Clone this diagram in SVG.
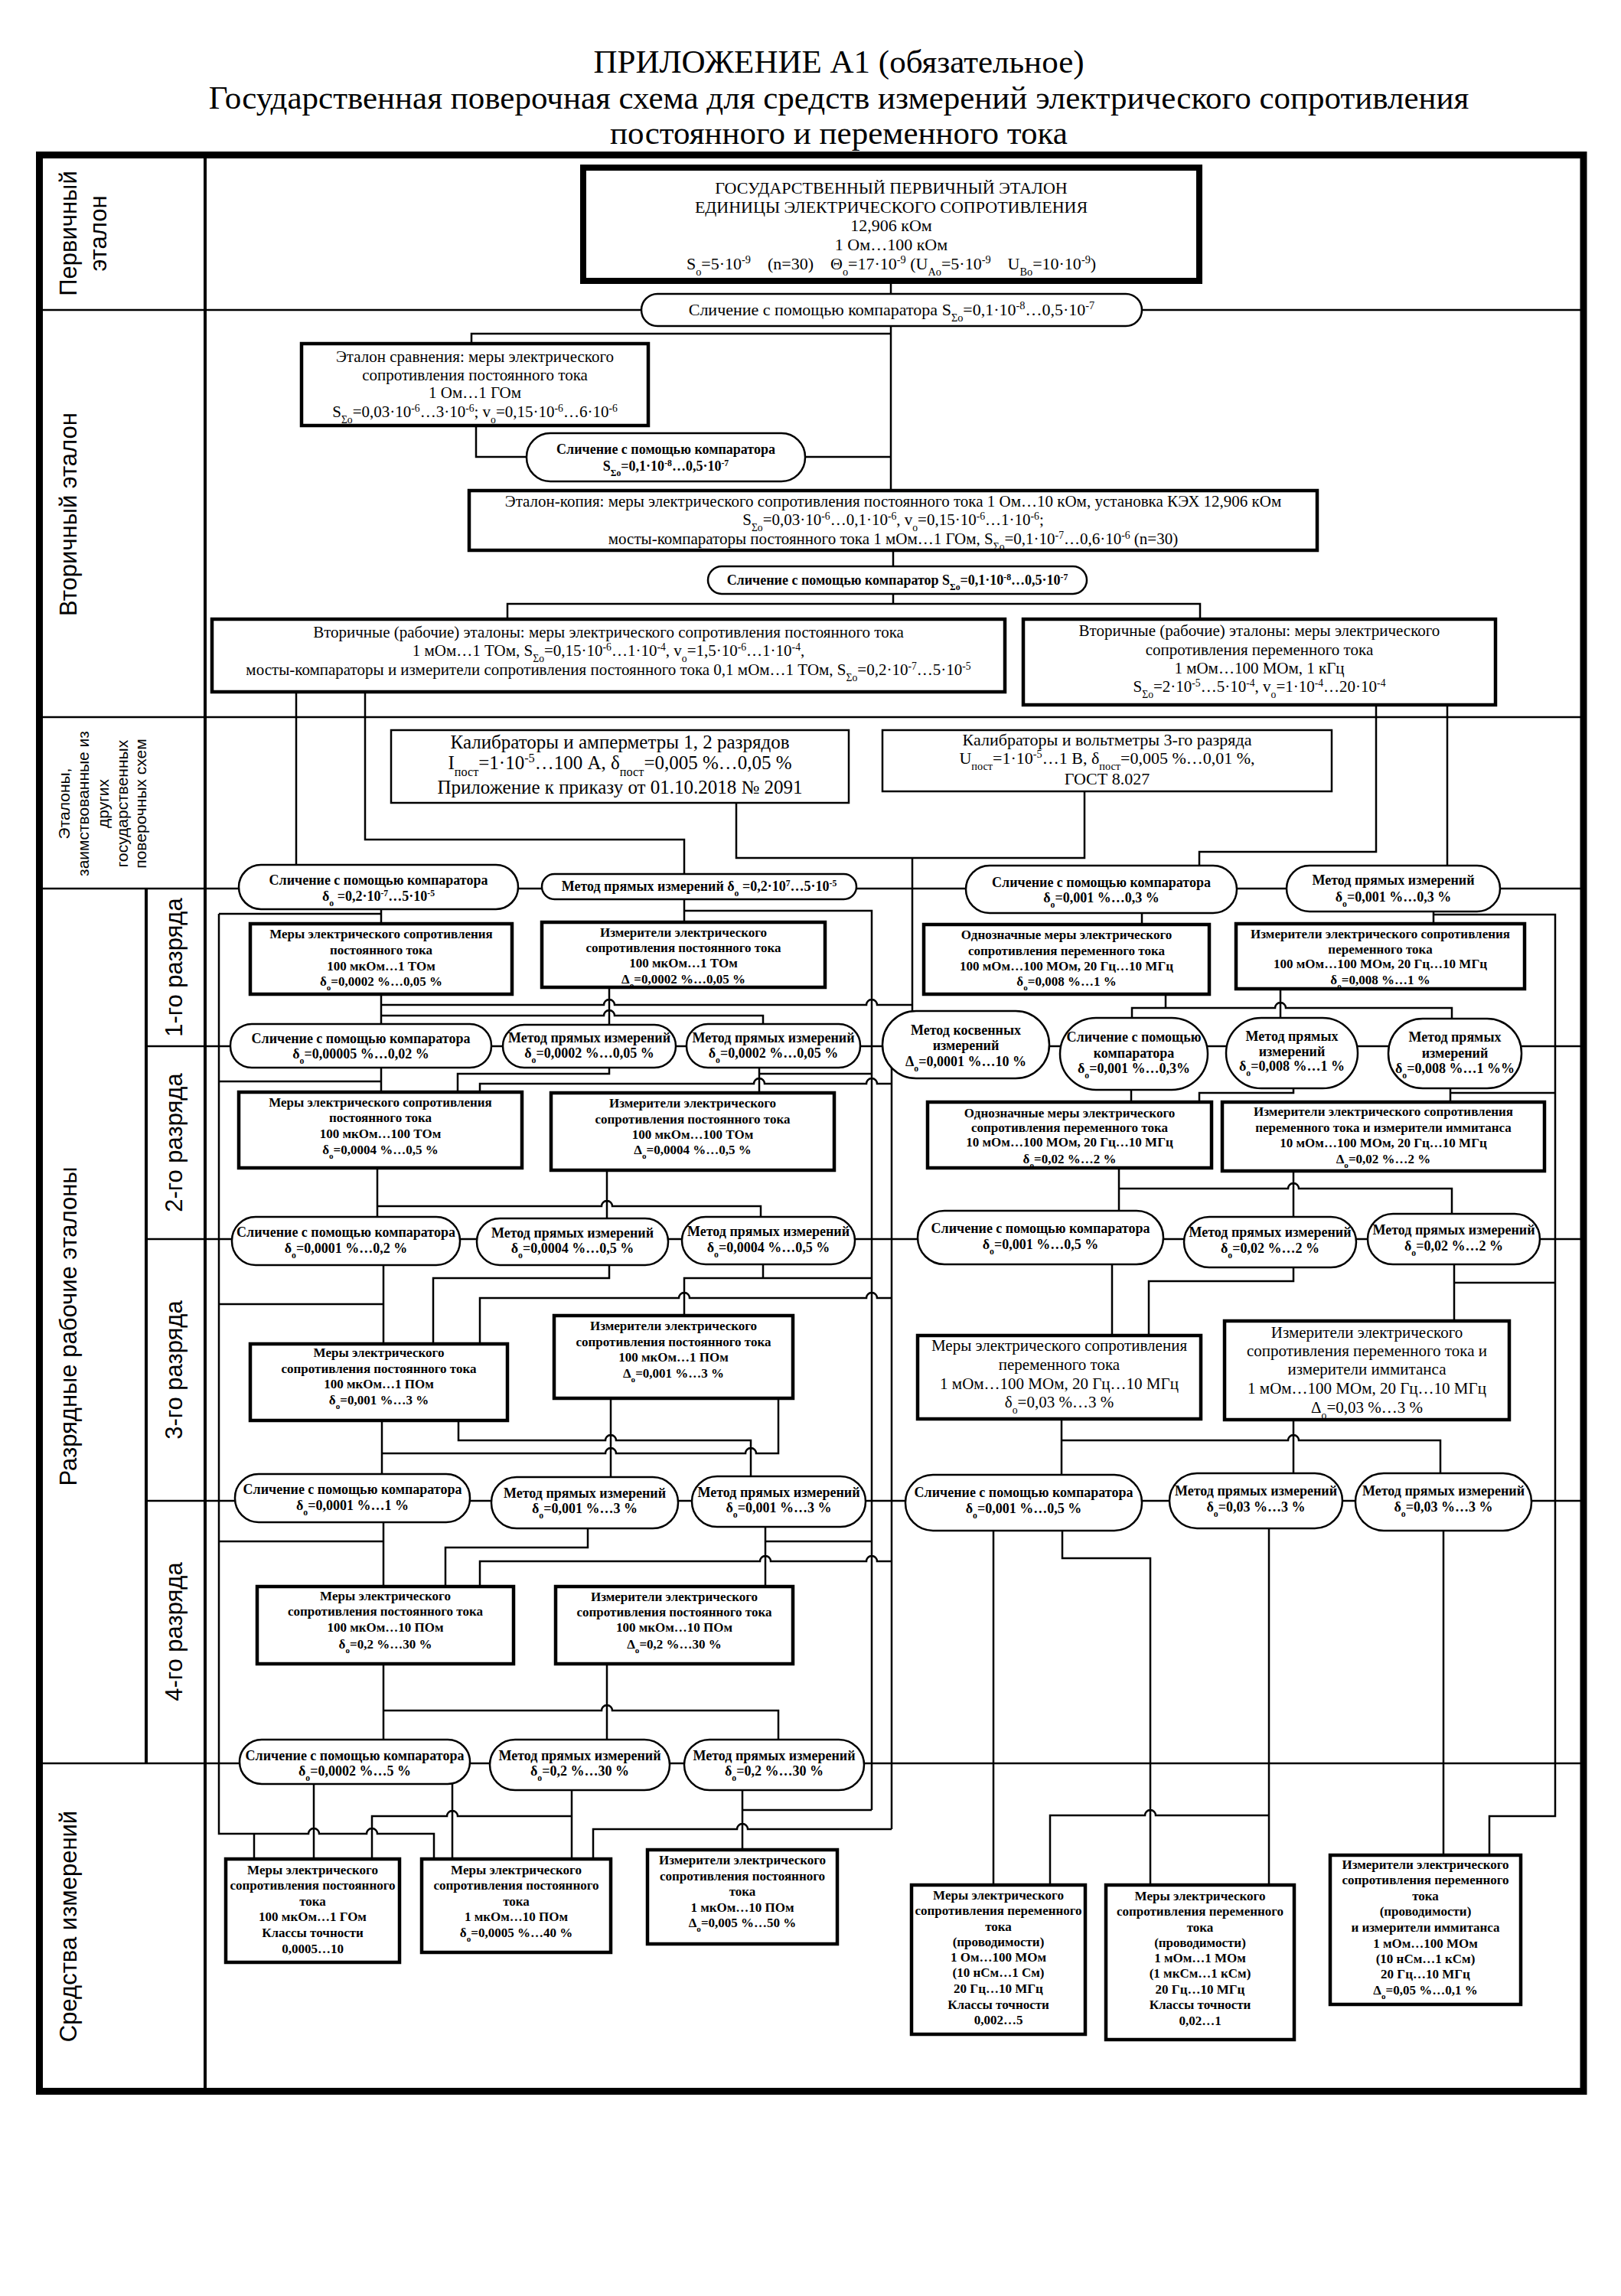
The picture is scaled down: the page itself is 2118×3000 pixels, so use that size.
<svg xmlns="http://www.w3.org/2000/svg" width="2118" height="3000" viewBox="0 0 2118 3000">
<style>
text{font-family:"Liberation Serif","Times New Roman",serif;text-anchor:middle;fill:#000}
.ttl{font-size:43px}
.lbl{font-family:"Liberation Sans",Arial,sans-serif;font-size:31px}
.lbs{font-family:"Liberation Sans",Arial,sans-serif;font-size:21px}
.r22{font-size:22px}
.r21{font-size:21px}
.r25{font-size:25px}
.b{font-size:17px;font-weight:bold}
.bp{font-size:18px;font-weight:bold}
.sp{font-size:65%;baseline-shift:super}
.sb{font-size:65%;baseline-shift:sub}
.frame{fill:none;stroke:#000;stroke-width:9}
.col{fill:none;stroke:#000;stroke-width:4}
.div{fill:none;stroke:#000;stroke-width:2.5}
.ln{fill:none;stroke:#000;stroke-width:2.5}
.prim{fill:#fff;stroke:#000;stroke-width:8}
.box{fill:#fff;stroke:#000;stroke-width:4.5}
.thin{fill:#fff;stroke:#000;stroke-width:2.5}
.pill{fill:#fff;stroke:#000;stroke-width:2.5}
</style>
<rect width="2118" height="3000" fill="#fff"/>
<g id="title">
<text class="ttl" x="1096" y="95">ПРИЛОЖЕНИЕ А1 (обязательное)</text>
<text class="ttl" x="1096" y="142">Государственная поверочная схема для средств измерений электрического сопротивления</text>
<text class="ttl" x="1096" y="188">постоянного и переменного тока</text>
</g>
<g id="grid">
<rect class="frame" x="51.5" y="202.5" width="2017.5" height="2530"/>
<path class="col" d="M268 202V2733 M191 1161V2304"/>
<path class="div" d="M52 405H2069 M52 937H2069 M52 1161H2069 M191 1367H2069 M191 1619H2069 M191 1961H2069 M52 2304H2069"/>
</g>
<g id="labels">
<text class="lbl" transform="translate(100,305) rotate(-90)">Первичный</text>
<text class="lbl" transform="translate(139,305) rotate(-90)">эталон</text>
<text class="lbl" transform="translate(100,672) rotate(-90)">Вторичный эталон</text>
<text class="lbs" transform="translate(91,1050) rotate(-90)">Эталоны,</text>
<text class="lbs" transform="translate(116,1050) rotate(-90)">заимствованные из</text>
<text class="lbs" transform="translate(142,1050) rotate(-90)">других</text>
<text class="lbs" transform="translate(167,1050) rotate(-90)">государственных</text>
<text class="lbs" transform="translate(191,1050) rotate(-90)">поверочных схем</text>
<text class="lbl" transform="translate(100,1733) rotate(-90)">Разрядные рабочие эталоны</text>
<text class="lbl" transform="translate(100,2517) rotate(-90)">Средства измерений</text>
<text class="lbl" transform="translate(238,1264) rotate(-90)">1-го разряда</text>
<text class="lbl" transform="translate(238,1493) rotate(-90)">2-го разряда</text>
<text class="lbl" transform="translate(238,1790) rotate(-90)">3-го разряда</text>
<text class="lbl" transform="translate(238,2132) rotate(-90)">4-го разряда</text>
</g>
<g id="connectors" class="ln">
<path d="M1164 360V395 M1164 415V650 M1164 436H616V455 M622 550V597H700 M1040 597H1164 M1167 712V750 M1167 770V789 M663 815V789H1568V815"/>
<path d="M387 900V1140 M477 900V1097H894V1150 M962 1045V1121H1417V1030 M1192 1121V1330 M1798 915V1113H1567V1140 M1891 915V1140"/>
<path d="M498 1180V1215 M286 1194H498 M286 1194V2396H403a7 7 0 0 1 14 0H479a7 7 0 0 1 14 0H567V2435 M332 2396V2435"/>
<path d="M894 1168V1212 M894 1190H1139V2365 M1492 1185V1215 M1873 1183V1215 M1873 1195H2032V2373H1946V2430"/>
<path d="M498 1295V1345 M498 1313H789a7 7 0 0 1 14 0H1132a7 7 0 0 1 14 0H1192 M498 1327H789a7 7 0 0 1 14 0H997V1345 M796 1285V1345"/>
<path d="M1523 1295V1317 M1479 1337V1317H1666a7 7 0 0 1 14 0H1897V1338 M1673 1288V1337"/>
<path d="M498 1388V1433 M286 1413H498 M796 1388V1403H598V1433 M992 1388V1433 M992 1403H1139 M627 1433V1416H985a7 7 0 0 1 14 0H1132a7 7 0 0 1 14 0H1165 M1165 1380V2390 M775 2435V2390H963a7 7 0 0 1 14 0H1165"/>
<path d="M1478 1415V1446 M1690 1414V1428H1567V1446 M1895 1414V1446 M1895 1428H2032"/>
<path d="M493 1520V1597 M493 1576H786a7 7 0 0 1 14 0H994V1597 M793 1523V1599 M1462 1520V1590 M1462 1553H1683a7 7 0 0 1 14 0H1897V1593 M1690 1524V1597"/>
<path d="M501 1645V1762 M286 1704H501 M796 1645V1670H566V1762 M627 1762V1696H887a7 7 0 0 1 14 0H1132a7 7 0 0 1 14 0H1165 M997 1645V1670 M894 1725V1670H1139"/>
<path d="M1453 1645V1751 M1690 1648V1674H1501V1751 M1900 1645V1732 M1900 1676H2032"/>
<path d="M499 1850V1933 M599 1850V1882H791a7 7 0 0 1 14 0H981V1936 M499 1899H791a7 7 0 0 1 14 0H974a7 7 0 0 1 14 0H1017V1821 M798 1821V1937"/>
<path d="M1387 1848V1934 M1387 1882H1683a7 7 0 0 1 14 0H1882V1932 M1690 1849V1932"/>
<path d="M501 1982V2079 M286 2014H501 M768 1988V2022H582V2079 M627 2079V2040H993a7 7 0 0 1 14 0H1132a7 7 0 0 1 14 0H1165 M1000 1988V2079 M1000 2014H1139"/>
<path d="M1298 1990V2469 M1388 1990V2036H1503V2469 M1658 1990V2469 M1372 2469V2372H1496a7 7 0 0 1 14 0H1658 M1886 1990V2430"/>
<path d="M501 2168V2280 M501 2235H786a7 7 0 0 1 14 0H1017V2280 M793 2168V2280"/>
<path d="M410 2320V2435 M591 2320V2435 M747 2330V2435 M486 2435V2373H584a7 7 0 0 1 14 0H747 M970 2330V2423 M970 2365H1139"/>
</g>
<g id="nodes">
<g id="primary"><rect class="prim" x="762" y="219" width="805" height="148"/>
<text class="r22" x="1164.5" y="253">ГОСУДАРСТВЕННЫЙ ПЕРВИЧНЫЙ ЭТАЛОН</text>
<text class="r22" x="1164.5" y="278">ЕДИНИЦЫ ЭЛЕКТРИЧЕСКОГО СОПРОТИВЛЕНИЯ</text>
<text class="r22" x="1164.5" y="302">12,906 кОм</text>
<text class="r22" x="1164.5" y="327">1 Ом…100 кОм</text>
<text class="r22" x="1164.5" y="352">S<tspan class="sb">o</tspan>=5·10<tspan class="sp">-9</tspan>&#160;&#160;&#160;&#160;(n=30)&#160;&#160;&#160;&#160;Θ<tspan class="sb">o</tspan>=17·10<tspan class="sp">-9</tspan> (U<tspan class="sb">Ao</tspan>=5·10<tspan class="sp">-9</tspan>&#160;&#160;&#160;&#160;U<tspan class="sb">Bo</tspan>=10·10<tspan class="sp">-9</tspan>)</text></g>
<g id="p0"><rect class="pill" x="838" y="384" width="654" height="42" rx="21"/>
<text class="r22" x="1165" y="412">Сличение с помощью компаратора S<tspan class="sb">Σo</tspan>=0,1·10<tspan class="sp">-8</tspan>…0,5·10<tspan class="sp">-7</tspan></text></g>
<g id="b1"><rect class="box" x="394" y="449" width="453" height="107"/>
<text class="r21" x="620.5" y="473">Эталон сравнения: меры электрического</text>
<text class="r21" x="620.5" y="497">сопротивления постоянного тока</text>
<text class="r21" x="620.5" y="520">1 Ом…1 ГОм</text>
<text class="r21" x="620.5" y="545">S<tspan class="sb">Σo</tspan>=0,03·10<tspan class="sp">-6</tspan>…3·10<tspan class="sp">-6</tspan>; v<tspan class="sb">o</tspan>=0,15·10<tspan class="sp">-6</tspan>…6·10<tspan class="sp">-6</tspan></text></g>
<g id="p1"><rect class="pill" x="688" y="566" width="364" height="63" rx="31"/>
<text class="bp" x="870" y="593">Сличение с помощью компаратора</text>
<text class="bp" x="870" y="615">S<tspan class="sb">Σo</tspan>=0,1·10<tspan class="sp">-8</tspan>…0,5·10<tspan class="sp">-7</tspan></text></g>
<g id="b2"><rect class="box" x="613" y="641" width="1108" height="78"/>
<text class="r21" x="1167" y="662">Эталон-копия: меры электрического сопротивления постоянного тока 1 Ом…10 кОм, установка КЭХ 12,906 кОм</text>
<text class="r21" x="1167" y="686">S<tspan class="sb">Σo</tspan>=0,03·10<tspan class="sp">-6</tspan>…0,1·10<tspan class="sp">-6</tspan>, v<tspan class="sb">o</tspan>=0,15·10<tspan class="sp">-6</tspan>…1·10<tspan class="sp">-6</tspan>;</text>
<text class="r21" x="1167" y="711">мосты-компараторы постоянного тока 1 мОм…1 ГОм, S<tspan class="sb">Σo</tspan>=0,1·10<tspan class="sp">-7</tspan>…0,6·10<tspan class="sp">-6</tspan> (n=30)</text></g>
<g id="p2"><rect class="pill" x="925" y="740" width="495" height="36" rx="18"/>
<text class="bp" x="1172.5" y="764">Сличение с помощью компаратор S<tspan class="sb">Σo</tspan>=0,1·10<tspan class="sp">-8</tspan>…0,5·10<tspan class="sp">-7</tspan></text></g>
<g id="b3"><rect class="box" x="277" y="809" width="1036" height="95"/>
<text class="r21" x="795" y="833">Вторичные (рабочие) эталоны: меры электрического сопротивления постоянного тока</text>
<text class="r21" x="795" y="857">1 мОм…1 ТОм, S<tspan class="sb">Σo</tspan>=0,15·10<tspan class="sp">-6</tspan>…1·10<tspan class="sp">-4</tspan>, v<tspan class="sb">o</tspan>=1,5·10<tspan class="sp">-6</tspan>…1·10<tspan class="sp">-4</tspan>,</text>
<text class="r21" x="795" y="882">мосты-компараторы и измерители сопротивления постоянного тока 0,1 мОм…1 ТОм, S<tspan class="sb">Σo</tspan>=0,2·10<tspan class="sp">-7</tspan>…5·10<tspan class="sp">-5</tspan></text></g>
<g id="b4"><rect class="box" x="1337" y="809" width="617" height="112"/>
<text class="r21" x="1645.5" y="831">Вторичные (рабочие) эталоны: меры электрического</text>
<text class="r21" x="1645.5" y="856">сопротивления переменного тока</text>
<text class="r21" x="1645.5" y="880">1 мОм…100 МОм, 1 кГц</text>
<text class="r21" x="1645.5" y="904">S<tspan class="sb">Σo</tspan>=2·10<tspan class="sp">-5</tspan>…5·10<tspan class="sp">-4</tspan>, v<tspan class="sb">o</tspan>=1·10<tspan class="sp">-4</tspan>…20·10<tspan class="sp">-4</tspan></text></g>
<g id="b5"><rect class="thin" x="511" y="954" width="598" height="95"/>
<text class="r25" x="810" y="978">Калибраторы и амперметры 1, 2 разрядов</text>
<text class="r25" x="810" y="1005">I<tspan class="sb">пост</tspan>=1·10<tspan class="sp">-5</tspan>…100 А, δ<tspan class="sb">пост</tspan>=0,005 %…0,05 %</text>
<text class="r25" x="810" y="1037">Приложение к приказу от 01.10.2018 № 2091</text></g>
<g id="b6"><rect class="thin" x="1153" y="954" width="587" height="80"/>
<text class="r22" x="1446.5" y="974">Калибраторы и вольтметры 3-го разряда</text>
<text class="r22" x="1446.5" y="998">U<tspan class="sb">пост</tspan>=1·10<tspan class="sp">-5</tspan>…1 В, δ<tspan class="sb">пост</tspan>=0,005 %…0,01 %,</text>
<text class="r22" x="1446.5" y="1025">ГОСТ 8.027</text></g>
<g id="p3"><rect class="pill" x="312" y="1130" width="365" height="58" rx="29"/>
<text class="bp" x="494.5" y="1156">Сличение с помощью компаратора</text>
<text class="bp" x="494.5" y="1177">δ<tspan class="sb">o</tspan> =0,2·10<tspan class="sp">-7</tspan>…5·10<tspan class="sp">-5</tspan></text></g>
<g id="p4"><rect class="pill" x="708" y="1142" width="411" height="33" rx="16.5"/>
<text class="bp" x="913.5" y="1164">Метод прямых измерений δ<tspan class="sb">o</tspan> =0,2·10<tspan class="sp">7</tspan>…5·10<tspan class="sp">-5</tspan></text></g>
<g id="p5"><rect class="pill" x="1262" y="1131" width="354" height="62" rx="31"/>
<text class="bp" x="1439" y="1159">Сличение с помощью компаратора</text>
<text class="bp" x="1439" y="1179">δ<tspan class="sb">o</tspan>=0,001 %…0,3 %</text></g>
<g id="p6"><rect class="pill" x="1681" y="1131" width="279" height="60" rx="30"/>
<text class="bp" x="1820.5" y="1156">Метод прямых измерений</text>
<text class="bp" x="1820.5" y="1178">δ<tspan class="sb">o</tspan>=0,001 %…0,3 %</text></g>
<g id="b7"><rect class="box" x="327" y="1207" width="342" height="92"/>
<text class="b" x="498" y="1226">Меры электрического сопротивления</text>
<text class="b" x="498" y="1247">постоянного тока</text>
<text class="b" x="498" y="1268">100 мкОм…1 ТОм</text>
<text class="b" x="498" y="1288">δ<tspan class="sb">o</tspan>=0,0002 %…0,05 %</text></g>
<g id="b8"><rect class="box" x="708" y="1205" width="370" height="85"/>
<text class="b" x="893" y="1224">Измерители электрического</text>
<text class="b" x="893" y="1244">сопротивления постоянного тока</text>
<text class="b" x="893" y="1264">100 мкОм…1 ТОм</text>
<text class="b" x="893" y="1285">Δ<tspan class="sb">o</tspan>=0,0002 %…0,05 %</text></g>
<g id="b9"><rect class="box" x="1207" y="1208" width="373" height="91"/>
<text class="b" x="1393.5" y="1227">Однозначные меры электрического</text>
<text class="b" x="1393.5" y="1248">сопротивления переменного тока</text>
<text class="b" x="1393.5" y="1268">100 мОм…100 МОм, 20 Гц…10 МГц</text>
<text class="b" x="1393.5" y="1288">δ<tspan class="sb">o</tspan>=0,008 %…1 %</text></g>
<g id="b10"><rect class="box" x="1615" y="1207" width="377" height="85"/>
<text class="b" x="1803.5" y="1226">Измерители электрического сопротивления</text>
<text class="b" x="1803.5" y="1246">переменного тока</text>
<text class="b" x="1803.5" y="1265">100 мОм…100 МОм, 20 Гц…10 МГц</text>
<text class="b" x="1803.5" y="1286">δ<tspan class="sb">o</tspan>=0,008 %…1 %</text></g>
<g id="p7"><rect class="pill" x="301" y="1338" width="341" height="57" rx="28"/>
<text class="bp" x="471.5" y="1363">Сличение с помощью компаратора</text>
<text class="bp" x="471.5" y="1383">δ<tspan class="sb">o</tspan>=0,00005 %…0,02 %</text></g>
<g id="p8"><rect class="pill" x="657" y="1339" width="226" height="56" rx="28"/>
<text class="bp" x="770" y="1362">Метод прямых измерений</text>
<text class="bp" x="770" y="1382">δ<tspan class="sb">o</tspan>=0,0002 %…0,05 %</text></g>
<g id="p9"><rect class="pill" x="897" y="1338" width="227" height="57" rx="28"/>
<text class="bp" x="1010.5" y="1362">Метод прямых измерений</text>
<text class="bp" x="1010.5" y="1382">δ<tspan class="sb">o</tspan>=0,0002 %…0,05 %</text></g>
<g id="p10"><rect class="pill" x="1153" y="1321" width="218" height="88" rx="44"/>
<text class="bp" x="1262" y="1352">Метод косвенных</text>
<text class="bp" x="1262" y="1372">измерений</text>
<text class="bp" x="1262" y="1393">Δ<tspan class="sb">o</tspan>=0,0001 %…10 %</text></g>
<g id="p11"><rect class="pill" x="1385" y="1330" width="193" height="94" rx="47"/>
<text class="bp" x="1481.5" y="1361">Сличение с помощью</text>
<text class="bp" x="1481.5" y="1382">компаратора</text>
<text class="bp" x="1481.5" y="1402">δ<tspan class="sb">o</tspan>=0,001 %…0,3%</text></g>
<g id="p12"><rect class="pill" x="1602" y="1330" width="172" height="92" rx="46"/>
<text class="bp" x="1688" y="1360">Метод прямых</text>
<text class="bp" x="1688" y="1380">измерений</text>
<text class="bp" x="1688" y="1399">δ<tspan class="sb">o</tspan>=0,008 %…1 %</text></g>
<g id="p13"><rect class="pill" x="1814" y="1331" width="174" height="91" rx="45"/>
<text class="bp" x="1901" y="1361">Метод прямых</text>
<text class="bp" x="1901" y="1382">измерений</text>
<text class="bp" x="1901" y="1402">δ<tspan class="sb">o</tspan>=0,008 %…1 %%</text></g>
<g id="b11"><rect class="box" x="312" y="1427" width="370" height="99"/>
<text class="b" x="497" y="1446">Меры электрического сопротивления</text>
<text class="b" x="497" y="1466">постоянного тока</text>
<text class="b" x="497" y="1487">100 мкОм…100 ТОм</text>
<text class="b" x="497" y="1508">δ<tspan class="sb">o</tspan>=0,0004 %…0,5 %</text></g>
<g id="b12"><rect class="box" x="720" y="1428" width="370" height="101"/>
<text class="b" x="905" y="1447">Измерители электрического</text>
<text class="b" x="905" y="1468">сопротивления постоянного тока</text>
<text class="b" x="905" y="1488">100 мкОм…100 ТОм</text>
<text class="b" x="905" y="1508">Δ<tspan class="sb">o</tspan>=0,0004 %…0,5 %</text></g>
<g id="b13"><rect class="box" x="1212" y="1440" width="371" height="86"/>
<text class="b" x="1397.5" y="1460">Однозначные меры электрического</text>
<text class="b" x="1397.5" y="1479">сопротивления переменного тока</text>
<text class="b" x="1397.5" y="1498">10 мОм…100 МОм, 20 Гц…10 МГц</text>
<text class="b" x="1397.5" y="1520">δ<tspan class="sb">o</tspan>=0,02 %…2 %</text></g>
<g id="b14"><rect class="box" x="1597" y="1440" width="421" height="90"/>
<text class="b" x="1807.5" y="1458">Измерители электрического сопротивления</text>
<text class="b" x="1807.5" y="1479">переменного тока и измерители иммитанса</text>
<text class="b" x="1807.5" y="1499">10 мОм…100 МОм, 20 Гц…10 МГц</text>
<text class="b" x="1807.5" y="1520">Δ<tspan class="sb">o</tspan>=0,02 %…2 %</text></g>
<g id="p14"><rect class="pill" x="303" y="1590" width="298" height="63" rx="31"/>
<text class="bp" x="452" y="1616">Сличение с помощью компаратора</text>
<text class="bp" x="452" y="1637">δ<tspan class="sb">o</tspan>=0,0001 %…0,2 %</text></g>
<g id="p15"><rect class="pill" x="623" y="1592" width="250" height="61" rx="30"/>
<text class="bp" x="748" y="1617">Метод прямых измерений</text>
<text class="bp" x="748" y="1637">δ<tspan class="sb">o</tspan>=0,0004 %…0,5 %</text></g>
<g id="p16"><rect class="pill" x="891" y="1590" width="226" height="62" rx="31"/>
<text class="bp" x="1004" y="1615">Метод прямых измерений</text>
<text class="bp" x="1004" y="1636">δ<tspan class="sb">o</tspan>=0,0004 %…0,5 %</text></g>
<g id="p17"><rect class="pill" x="1199" y="1582" width="321" height="70" rx="35"/>
<text class="bp" x="1359.5" y="1611">Сличение с помощью компаратора</text>
<text class="bp" x="1359.5" y="1632">δ<tspan class="sb">o</tspan>=0,001 %…0,5 %</text></g>
<g id="p18"><rect class="pill" x="1547" y="1590" width="225" height="66" rx="33"/>
<text class="bp" x="1659.5" y="1616">Метод прямых измерений</text>
<text class="bp" x="1659.5" y="1637">δ<tspan class="sb">o</tspan>=0,02 %…2 %</text></g>
<g id="p19"><rect class="pill" x="1787" y="1586" width="225" height="66" rx="33"/>
<text class="bp" x="1899.5" y="1613">Метод прямых измерений</text>
<text class="bp" x="1899.5" y="1634">δ<tspan class="sb">o</tspan>=0,02 %…2 %</text></g>
<g id="b15"><rect class="box" x="327" y="1756" width="336" height="100"/>
<text class="b" x="495" y="1773">Меры электрического</text>
<text class="b" x="495" y="1794">сопротивления постоянного тока</text>
<text class="b" x="495" y="1814">100 мкОм…1 ПОм</text>
<text class="b" x="495" y="1835">δ<tspan class="sb">o</tspan>=0,001 %…3 %</text></g>
<g id="b16"><rect class="box" x="724" y="1719" width="312" height="108"/>
<text class="b" x="880" y="1738">Измерители электрического</text>
<text class="b" x="880" y="1759">сопротивления постоянного тока</text>
<text class="b" x="880" y="1779">100 мкОм…1 ПОм</text>
<text class="b" x="880" y="1800">Δ<tspan class="sb">o</tspan>=0,001 %…3 %</text></g>
<g id="b17"><rect class="box" x="1199" y="1745" width="370" height="109"/>
<text class="r21" x="1384" y="1765">Меры электрического сопротивления</text>
<text class="r21" x="1384" y="1790">переменного тока</text>
<text class="r21" x="1384" y="1815">1 мОм…100 МОм, 20 Гц…10 МГц</text>
<text class="r21" x="1384" y="1839">δ<tspan class="sb">o</tspan>=0,03 %…3 %</text></g>
<g id="b18"><rect class="box" x="1600" y="1726" width="372" height="129"/>
<text class="r21" x="1786" y="1748">Измерители электрического</text>
<text class="r21" x="1786" y="1772">сопротивления переменного тока и</text>
<text class="r21" x="1786" y="1796">измерители иммитанса</text>
<text class="r21" x="1786" y="1821">1 мОм…100 МОм, 20 Гц…10 МГц</text>
<text class="r21" x="1786" y="1846">Δ<tspan class="sb">o</tspan>=0,03 %…3 %</text></g>
<g id="p20"><rect class="pill" x="307" y="1926" width="307" height="63" rx="31"/>
<text class="bp" x="460.5" y="1952">Сличение с помощью компаратора</text>
<text class="bp" x="460.5" y="1973">δ<tspan class="sb">o</tspan>=0,0001 %…1 %</text></g>
<g id="p21"><rect class="pill" x="642" y="1930" width="244" height="67" rx="33"/>
<text class="bp" x="764" y="1957">Метод прямых измерений</text>
<text class="bp" x="764" y="1977">δ<tspan class="sb">o</tspan>=0,001 %…3 %</text></g>
<g id="p22"><rect class="pill" x="904" y="1929" width="227" height="66" rx="33"/>
<text class="bp" x="1017.5" y="1956">Метод прямых измерений</text>
<text class="bp" x="1017.5" y="1976">δ<tspan class="sb">o</tspan>=0,001 %…3 %</text></g>
<g id="p23"><rect class="pill" x="1183" y="1927" width="309" height="73" rx="36"/>
<text class="bp" x="1337.5" y="1956">Сличение с помощью компаратора</text>
<text class="bp" x="1337.5" y="1977">δ<tspan class="sb">o</tspan>=0,001 %…0,5 %</text></g>
<g id="p24"><rect class="pill" x="1528" y="1925" width="226" height="72" rx="36"/>
<text class="bp" x="1641" y="1954">Метод прямых измерений</text>
<text class="bp" x="1641" y="1975">δ<tspan class="sb">o</tspan>=0,03 %…3 %</text></g>
<g id="p25"><rect class="pill" x="1771" y="1925" width="230" height="75" rx="37"/>
<text class="bp" x="1886" y="1954">Метод прямых измерений</text>
<text class="bp" x="1886" y="1975">δ<tspan class="sb">o</tspan>=0,03 %…3 %</text></g>
<g id="b19"><rect class="box" x="336" y="2073" width="335" height="101"/>
<text class="b" x="503.5" y="2091">Меры электрического</text>
<text class="b" x="503.5" y="2111">сопротивления постоянного тока</text>
<text class="b" x="503.5" y="2132">100 мкОм…10 ПОм</text>
<text class="b" x="503.5" y="2154">δ<tspan class="sb">o</tspan>=0,2 %…30 %</text></g>
<g id="b20"><rect class="box" x="726" y="2073" width="310" height="101"/>
<text class="b" x="881" y="2092">Измерители электрического</text>
<text class="b" x="881" y="2112">сопротивления постоянного тока</text>
<text class="b" x="881" y="2132">100 мкОм…10 ПОм</text>
<text class="b" x="881" y="2154">Δ<tspan class="sb">o</tspan>=0,2 %…30 %</text></g>
<g id="p26"><rect class="pill" x="313" y="2273" width="301" height="58" rx="29"/>
<text class="bp" x="463.5" y="2300">Сличение с помощью компаратора</text>
<text class="bp" x="463.5" y="2320">δ<tspan class="sb">o</tspan>=0,0002 %…5 %</text></g>
<g id="p27"><rect class="pill" x="640" y="2273" width="235" height="66" rx="33"/>
<text class="bp" x="757.5" y="2300">Метод прямых измерений</text>
<text class="bp" x="757.5" y="2320">δ<tspan class="sb">o</tspan>=0,2 %…30 %</text></g>
<g id="p28"><rect class="pill" x="894" y="2273" width="235" height="66" rx="33"/>
<text class="bp" x="1011.5" y="2300">Метод прямых измерений</text>
<text class="bp" x="1011.5" y="2320">δ<tspan class="sb">o</tspan>=0,2 %…30 %</text></g>
<g id="b21"><rect class="box" x="295" y="2429" width="227" height="135"/>
<text class="b" x="408.5" y="2449">Меры электрического</text>
<text class="b" x="408.5" y="2469">сопротивления постоянного</text>
<text class="b" x="408.5" y="2490">тока</text>
<text class="b" x="408.5" y="2510">100 мкОм…1 ГОм</text>
<text class="b" x="408.5" y="2531">Классы точности</text>
<text class="b" x="408.5" y="2552">0,0005…10</text></g>
<g id="b22"><rect class="box" x="551" y="2429" width="247" height="122"/>
<text class="b" x="674.5" y="2449">Меры электрического</text>
<text class="b" x="674.5" y="2469">сопротивления постоянного</text>
<text class="b" x="674.5" y="2490">тока</text>
<text class="b" x="674.5" y="2510">1 мкОм…10 ПОм</text>
<text class="b" x="674.5" y="2531">δ<tspan class="sb">o</tspan>=0,0005 %…40 %</text></g>
<g id="b23"><rect class="box" x="846" y="2417" width="248" height="123"/>
<text class="b" x="970" y="2436">Измерители электрического</text>
<text class="b" x="970" y="2457">сопротивления постоянного</text>
<text class="b" x="970" y="2477">тока</text>
<text class="b" x="970" y="2498">1 мкОм…10 ПОм</text>
<text class="b" x="970" y="2518">Δ<tspan class="sb">o</tspan>=0,005 %…50 %</text></g>
<g id="b24"><rect class="box" x="1191" y="2463" width="227" height="195"/>
<text class="b" x="1304.5" y="2482">Меры электрического</text>
<text class="b" x="1304.5" y="2502">сопротивления переменного</text>
<text class="b" x="1304.5" y="2523">тока</text>
<text class="b" x="1304.5" y="2543">(проводимости)</text>
<text class="b" x="1304.5" y="2563">1 Ом…100 МОм</text>
<text class="b" x="1304.5" y="2583">(10 нСм…1 См)</text>
<text class="b" x="1304.5" y="2604">20 Гц…10 МГц</text>
<text class="b" x="1304.5" y="2625">Классы точности</text>
<text class="b" x="1304.5" y="2645">0,002…5</text></g>
<g id="b25"><rect class="box" x="1445" y="2463" width="246" height="202"/>
<text class="b" x="1568" y="2483">Меры электрического</text>
<text class="b" x="1568" y="2503">сопротивления переменного</text>
<text class="b" x="1568" y="2524">тока</text>
<text class="b" x="1568" y="2544">(проводимости)</text>
<text class="b" x="1568" y="2564">1 мОм…1 МОм</text>
<text class="b" x="1568" y="2584">(1 мкСм…1 кСм)</text>
<text class="b" x="1568" y="2605">20 Гц…10 МГц</text>
<text class="b" x="1568" y="2625">Классы точности</text>
<text class="b" x="1568" y="2646">0,02…1</text></g>
<g id="b26"><rect class="box" x="1738" y="2424" width="249" height="195"/>
<text class="b" x="1862.5" y="2442">Измерители электрического</text>
<text class="b" x="1862.5" y="2462">сопротивления переменного</text>
<text class="b" x="1862.5" y="2483">тока</text>
<text class="b" x="1862.5" y="2503">(проводимости)</text>
<text class="b" x="1862.5" y="2524">и измерители иммитанса</text>
<text class="b" x="1862.5" y="2545">1 мОм…100 МОм</text>
<text class="b" x="1862.5" y="2565">(10 нСм…1 кСм)</text>
<text class="b" x="1862.5" y="2585">20 Гц…10 МГц</text>
<text class="b" x="1862.5" y="2606">Δ<tspan class="sb">o</tspan>=0,05 %…0,1 %</text></g>
</g>
</svg>
